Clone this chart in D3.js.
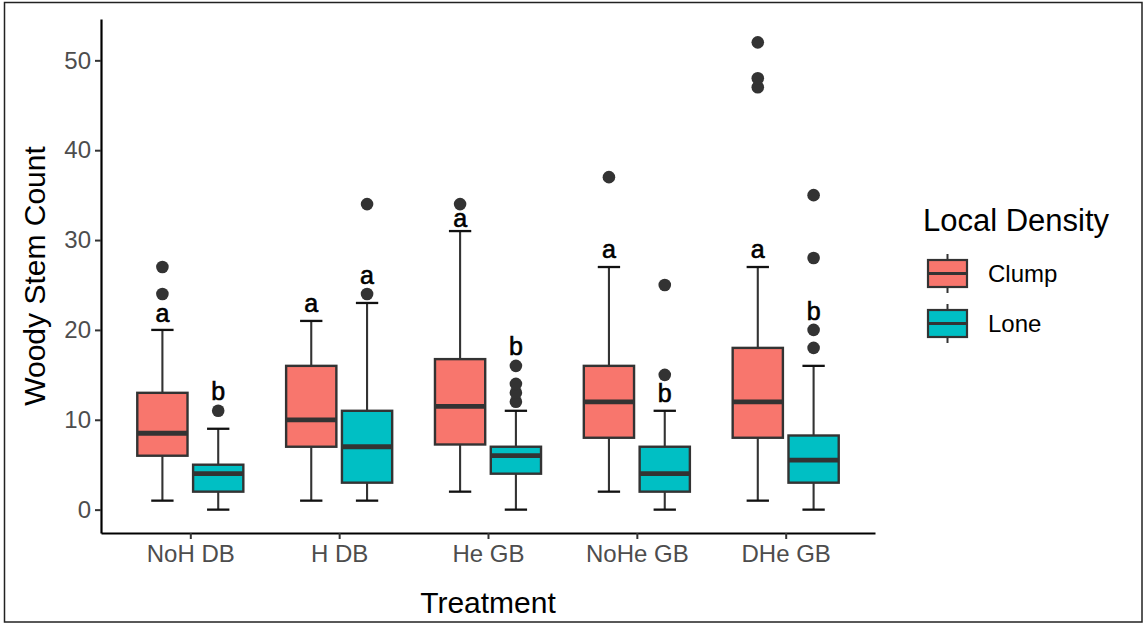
<!DOCTYPE html>
<html>
<head>
<meta charset="utf-8">
<script src="https://cdn.jsdelivr.net/npm/d3@7"></script>
<style>
  body { margin: 0; background: #fff; }
  svg { display: block; font-family: "Liberation Sans", Arial, sans-serif; }
</style>
</head>
<body>
<svg class="chart"></svg>
<script>
const width = 1145;
const height = 625;

// categories
const treatments = ['NoH DB', 'H DB', 'He GB', 'NoHe GB', 'DHe GB'];
const densities = ['Clump', 'Lone'];
const yTicks = [0, 10, 20, 30, 40, 50];

// Clump boxes (lower whisker, Q1, median, Q3, upper whisker)
const clumpLow = [1, 1, 2, 2, 1];
const clumpQ1 = [6, 7, 7.25, 8, 8];
const clumpMed = [8.5, 10, 11.5, 12, 12];
const clumpQ3 = [13, 16, 16.75, 16, 18];
const clumpHigh = [20, 21, 31, 27, 27];
const clumpOutliers = [[24, 27], [], [34], [37], [47, 48, 52]];
const clumpLetters = ['a', 'a', 'a', 'a', 'a'];
const clumpLetterY = [20.9, 22, 31.5, 28, 28];

// Lone boxes
const loneLow = [0, 1, 0, 0, 0];
const loneQ1 = [2, 3, 4, 2, 3];
const loneMed = [4, 7, 6, 4, 5.5];
const loneQ3 = [5, 11, 7, 7, 8.25];
const loneHigh = [9, 23, 11, 11, 16];
const loneOutliers = [[11], [24, 34], [12, 13, 14, 16], [15, 25], [18, 20, 28, 35]];
const loneLetters = ['b', 'a', 'b', 'b', 'b'];
const loneLetterY = [12.2, 25.1, 17.2, 12, 21.1];

const colors = { Clump: '#F8766D', Lone: '#00BFC4' };

// build rows
const rows = [];
treatments.forEach((t, i) => {
    rows.push({ t, d: 'Clump', low: clumpLow[i], q1: clumpQ1[i], med: clumpMed[i], q3: clumpQ3[i], high: clumpHigh[i],
        out: clumpOutliers[i], letter: clumpLetters[i], ly: clumpLetterY[i] });
    rows.push({ t, d: 'Lone', low: loneLow[i], q1: loneQ1[i], med: loneMed[i], q3: loneQ3[i], high: loneHigh[i],
        out: loneOutliers[i], letter: loneLetters[i], ly: loneLetterY[i] });
});

const plot = { left: 101, right: 875, top: 19, bottom: 533 };

const chart = d3.select('.chart')
    .attr('width', width)
    .attr('height', height);

// outer frame of the image
chart.append('rect')
    .attr('x', 4.5).attr('y', 2.5)
    .attr('width', 1137.5).attr('height', 619.5)
    .attr('fill', 'none')
    .attr('stroke', '#222')
    .attr('stroke-width', 1.5);

const xScale = d3.scalePoint()
    .domain(treatments)
    .range([plot.left, plot.right])
    .padding(0.6);

const step = xScale.step();

const dodge = d3.scaleBand()
    .domain(densities)
    .range([-0.375 * step, 0.375 * step]);

const boxW = dodge.bandwidth() * 0.9;
const capW = step * 0.15;

const yScale = d3.scaleLinear()
    .domain([-2.6, 54.6])
    .range([plot.bottom, plot.top]);

const cx = r => xScale(r.t) + dodge(r.d) + dodge.bandwidth() / 2;

const g = chart.selectAll('g.box')
    .data(rows)
    .enter()
    .append('g')
    .attr('class', 'box');

// whiskers
g.append('line')
    .attr('x1', cx).attr('x2', cx)
    .attr('y1', r => yScale(r.q3)).attr('y2', r => yScale(r.high))
    .attr('stroke', '#333').attr('stroke-width', 2.1);
g.append('line')
    .attr('x1', cx).attr('x2', cx)
    .attr('y1', r => yScale(r.q1)).attr('y2', r => yScale(r.low))
    .attr('stroke', '#333').attr('stroke-width', 2.1);
// caps
['high', 'low'].forEach(k => {
    g.append('line')
        .attr('x1', r => cx(r) - capW / 2).attr('x2', r => cx(r) + capW / 2)
        .attr('y1', r => yScale(r[k])).attr('y2', r => yScale(r[k]))
        .attr('stroke', '#111').attr('stroke-width', 2.3);
});

// boxes
g.append('rect')
    .attr('x', r => cx(r) - boxW / 2)
    .attr('width', boxW)
    .attr('y', r => yScale(r.q3))
    .attr('height', r => yScale(r.q1) - yScale(r.q3))
    .attr('fill', r => colors[r.d])
    .attr('stroke', '#333')
    .attr('stroke-width', 2.4);

// medians
g.append('line')
    .attr('x1', r => cx(r) - boxW / 2).attr('x2', r => cx(r) + boxW / 2)
    .attr('y1', r => yScale(r.med)).attr('y2', r => yScale(r.med))
    .attr('stroke', '#333').attr('stroke-width', 4.8);

// outliers
g.selectAll('circle')
    .data(r => r.out.map(v => ({ v, x: cx(r) })))
    .enter()
    .append('circle')
    .attr('cx', p => p.x)
    .attr('cy', p => yScale(p.v))
    .attr('r', 6.3)
    .attr('fill', '#333');

// significance letters
g.append('text')
    .attr('x', cx)
    .attr('y', r => yScale(r.ly))
    .attr('text-anchor', 'middle')
    .style('font-size', '25px')
    .style('fill', '#000')
    .style('stroke', '#000')
    .style('stroke-width', 0.6)
    .text(r => r.letter);

/*----- AXES ------*/
const xAxis = d3.axisBottom(xScale).tickSize(6).tickSizeOuter(0).tickPadding(6);
const yAxis = d3.axisLeft(yScale).tickValues(yTicks).tickSize(6).tickSizeOuter(0).tickPadding(4);

const gx = chart.append('g')
    .attr('id', 'x-axis')
    .attr('transform', `translate(0, ${plot.bottom})`)
    .call(xAxis);

const gy = chart.append('g')
    .attr('id', 'y-axis')
    .attr('transform', `translate(${plot.left}, 0)`)
    .call(yAxis);

[gx, gy].forEach(ax => {
    ax.select('.domain').attr('stroke', '#000').attr('stroke-width', 2.2);
    ax.selectAll('.tick line').attr('stroke', '#333').attr('stroke-width', 2);
    ax.selectAll('.tick text')
        .style('font-size', '24px')
        .style('font-family', '"Liberation Sans", Arial, sans-serif')
        .attr('fill', '#4d4d4d');
});

// axis titles
chart.append('text')
    .attr('x', (plot.left + plot.right) / 2)
    .attr('y', 613)
    .attr('text-anchor', 'middle')
    .style('font-size', '30px')
    .text('Treatment');

chart.append('text')
    .attr('transform', `translate(45, ${(plot.top + plot.bottom) / 2}) rotate(-90)`)
    .attr('text-anchor', 'middle')
    .style('font-size', '30px')
    .text('Woody Stem Count');

/*----- LEGEND ------*/
const legend = chart.append('g').attr('class', 'legend');

legend.append('text')
    .attr('x', 923)
    .attr('y', 231)
    .style('font-size', '31px')
    .text('Local Density');

const key = legend.selectAll('g.key')
    .data(densities)
    .enter()
    .append('g')
    .attr('class', 'key')
    .attr('transform', (d, i) => `translate(928, ${260 + i * 50})`);

key.append('line')
    .attr('x1', 19.5).attr('x2', 19.5)
    .attr('y1', -6).attr('y2', 33)
    .attr('stroke', '#333').attr('stroke-width', 2);

key.append('rect')
    .attr('width', 39)
    .attr('height', 27)
    .attr('fill', d => colors[d])
    .attr('stroke', '#333')
    .attr('stroke-width', 2.2);

key.append('line')
    .attr('x1', 0).attr('x2', 39)
    .attr('y1', 13.5).attr('y2', 13.5)
    .attr('stroke', '#333').attr('stroke-width', 3);

key.append('text')
    .attr('x', 60)
    .attr('y', 13.5)
    .attr('dy', '0.35em')
    .style('font-size', '24px')
    .text(d => d);
</script>
</body>
</html>
